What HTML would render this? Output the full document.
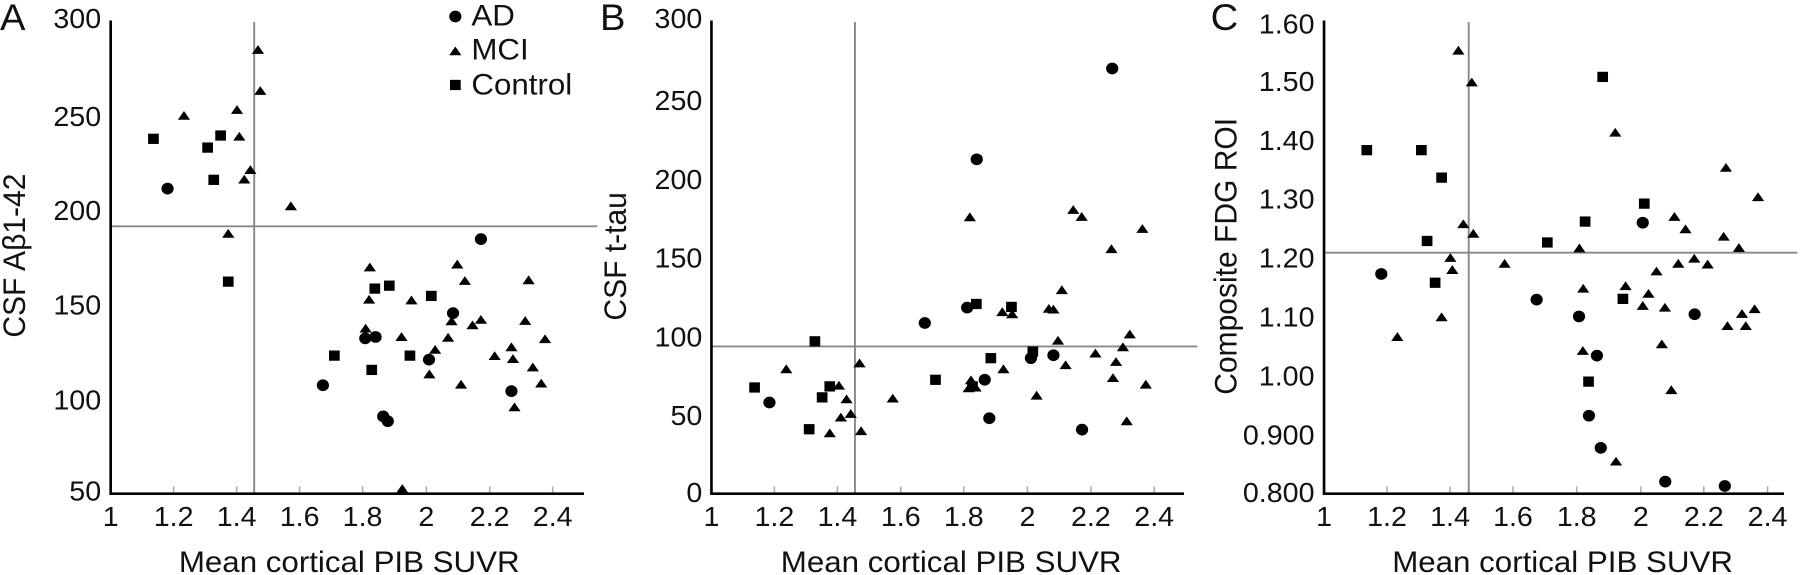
<!DOCTYPE html>
<html><head><meta charset="utf-8"><style>
html,body{margin:0;padding:0;background:#fff;}
#w{position:relative;width:1800px;height:575px;overflow:hidden;}
svg{position:absolute;top:0;width:600px;height:575px;}
text{font-family:"Liberation Sans",sans-serif;fill:#111;}
</style></head><body><div id="w">
<svg id="A" style="left:0" viewBox="0 0 1572 1570" preserveAspectRatio="none">
<text x="0" y="82" font-size="100">A</text>
<g font-size="75" text-anchor="end">
<text x="265" y="76">300</text><text x="265" y="344">250</text><text x="265" y="601">200</text><text x="265" y="859">150</text><text x="265" y="1118">100</text><text x="265" y="1366">50</text></g>
<g font-size="75" text-anchor="middle">
<text x="290" y="1436">1</text><text x="455" y="1436">1.2</text><text x="620" y="1436">1.4</text><text x="785" y="1436">1.6</text><text x="950" y="1436">1.8</text><text x="1117" y="1436">2</text><text x="1283" y="1436">2.2</text><text x="1448" y="1436">2.4</text></g>
<text x="915" y="1562" font-size="82" text-anchor="middle">Mean cortical PIB SUVR</text>
<text transform="translate(66,698) rotate(-90)" font-size="82" text-anchor="middle">CSF Aβ1-42</text>
<g font-size="82"><text x="1235" y="70">AD</text><text x="1235" y="163">MCI</text><text x="1235" y="258">Control</text></g>
</svg>
<svg id="B" style="left:600px" viewBox="0 0 1572 1570" preserveAspectRatio="none">
<text x="0" y="82" font-size="100">B</text>
<g font-size="75" text-anchor="end">
<text x="268" y="76">300</text><text x="268" y="301">250</text><text x="268" y="516">200</text><text x="268" y="731">150</text><text x="268" y="946">100</text><text x="268" y="1161">50</text><text x="268" y="1371">0</text></g>
<g font-size="75" text-anchor="middle">
<text x="292" y="1436">1</text><text x="457" y="1436">1.2</text><text x="622" y="1436">1.4</text><text x="788" y="1436">1.6</text><text x="953" y="1436">1.8</text><text x="1120" y="1436">2</text><text x="1286" y="1436">2.2</text><text x="1452" y="1436">2.4</text></g>
<text x="920" y="1562" font-size="82" text-anchor="middle">Mean cortical PIB SUVR</text>
<text transform="translate(68,700) rotate(-90)" font-size="82" text-anchor="middle">CSF t-tau</text>
</svg>
<svg id="C" style="left:1200px" viewBox="0 0 1572 1570" preserveAspectRatio="none">
<text x="28" y="82" font-size="100">C</text>
<g font-size="75" text-anchor="end">
<text x="300" y="91">1.60</text><text x="300" y="248">1.50</text><text x="300" y="409">1.40</text><text x="300" y="569">1.30</text><text x="300" y="731">1.20</text><text x="300" y="891">1.10</text><text x="300" y="1053">1.00</text><text x="300" y="1214">0.900</text><text x="300" y="1371">0.800</text></g>
<g font-size="75" text-anchor="middle">
<text x="325" y="1436">1</text><text x="490" y="1436">1.2</text><text x="655" y="1436">1.4</text><text x="820" y="1436">1.6</text><text x="987" y="1436">1.8</text><text x="1155" y="1436">2</text><text x="1320" y="1436">2.2</text><text x="1487" y="1436">2.4</text></g>
<text x="950" y="1562" font-size="82" text-anchor="middle">Mean cortical PIB SUVR</text>
<text transform="translate(95,700) rotate(-90)" font-size="82" text-anchor="middle">Composite FDG ROI</text>
</svg>
</div>
<script>
var NS="http://www.w3.org/2000/svg";
function el(svg,tag,a){var e=document.createElementNS(NS,tag);for(var k in a)e.setAttribute(k,a[k]);svg.appendChild(e);return e;}
function panel(id,ax,vx,hy,xt,d){
 var s=document.getElementById(id);
 xt.forEach(function(x){el(s,'line',{x1:x,x2:x,y1:1328,y2:1348,stroke:'#aaa','stroke-width':4});});
 el(s,'line',{x1:vx,x2:vx,y1:60,y2:1348,stroke:'#888','stroke-width':5});
 el(s,'line',{x1:ax,x2:1565,y1:hy,y2:hy,stroke:'#888','stroke-width':5});
 el(s,'line',{x1:ax,x2:ax,y1:56,y2:1351,stroke:'#000','stroke-width':7});
 el(s,'line',{x1:ax-3,x2:1530,y1:1348,y2:1348,stroke:'#000','stroke-width':7});
 d.c.forEach(function(p){el(s,'ellipse',{cx:p[0],cy:p[1],rx:16,ry:16,fill:'#000'});});
 d.t.forEach(function(p){var x=p[0],y=p[1];el(s,'polygon',{points:(x-16)+','+(y+11)+' '+(x+16)+','+(y+11)+' '+x+','+(y-13),fill:'#000'});});
 d.s.forEach(function(p){el(s,'rect',{x:p[0]-14,y:p[1]-14,width:28,height:28,fill:'#000'});});
}
panel('A',290,666,618,[455,620,785,950,1117,1283,1448],{
c:[[439,515],[1260,653],[1187,855],[957,924],[984,920],[1124,982],[846,1052],[1004,1137],[1016,1150],[1340,1068],[1193,45]],
t:[[676,136],[682,248],[482,316],[621,300],[627,373],[656,464],[640,490],[762,563],[598,638],[969,730],[967,818],[958,897],[1198,722],[1218,767],[1078,820],[1052,920],[1183,877],[1174,922],[1140,955],[1238,888],[1260,873],[1125,1022],[1208,1050],[1296,972],[1340,948],[1344,980],[1385,765],[1376,876],[1428,926],[1396,1003],[1418,1047],[1348,1112],[1054,1335],[1193,140]],
s:[[402,379],[544,403],[578,370],[560,491],[598,769],[982,788],[1020,780],[1130,808],[876,971],[1074,971],[974,1010],[1193,232]]});
panel('B',292,668,946,[457,622,788,953,1120,1286,1452],{
c:[[1342,187],[987,435],[962,840],[851,882],[1129,978],[1188,970],[1008,1037],[1020,1142],[1263,1173],[444,1099]],
t:[[969,593],[1240,573],[1262,592],[1421,625],[1340,680],[1210,792],[1054,852],[1080,858],[1176,843],[1188,845],[1388,913],[1200,930],[1370,948],[1298,965],[1352,988],[1220,997],[1057,1008],[1144,1080],[1344,1032],[1430,1050],[1380,1150],[680,992],[684,1177],[488,1008],[626,1053],[646,1090],[657,1130],[631,1140],[602,1183],[767,1088],[972,1038],[966,1060],[984,1058]],
s:[[563,932],[405,1058],[582,1085],[602,1055],[548,1172],[879,1037],[986,830],[1078,838],[1134,960],[1024,978],[976,1055]]});
panel('C',325,704,690,[490,655,820,987,1155,1320,1487],{
c:[[475,748],[1160,608],[882,818],[993,864],[1296,858],[1040,971],[1019,1135],[1050,1223],[1219,1315],[1375,1327]],
t:[[677,138],[712,225],[1088,362],[1378,458],[1462,538],[690,612],[716,638],[994,678],[1243,592],[1272,626],[1372,646],[1412,677],[656,704],[661,737],[798,720],[1196,741],[1253,720],[1295,706],[1330,722],[1115,781],[1175,802],[1004,788],[1160,835],[1218,840],[1420,857],[1453,844],[1382,890],[1430,890],[1210,940],[1003,958],[1235,1065],[1090,1260],[633,866],[517,920]],
s:[[437,410],[580,410],[633,485],[1055,210],[1164,556],[1009,605],[910,662],[595,658],[616,772],[1108,816],[1018,1042]]});
</script>
</body></html>
